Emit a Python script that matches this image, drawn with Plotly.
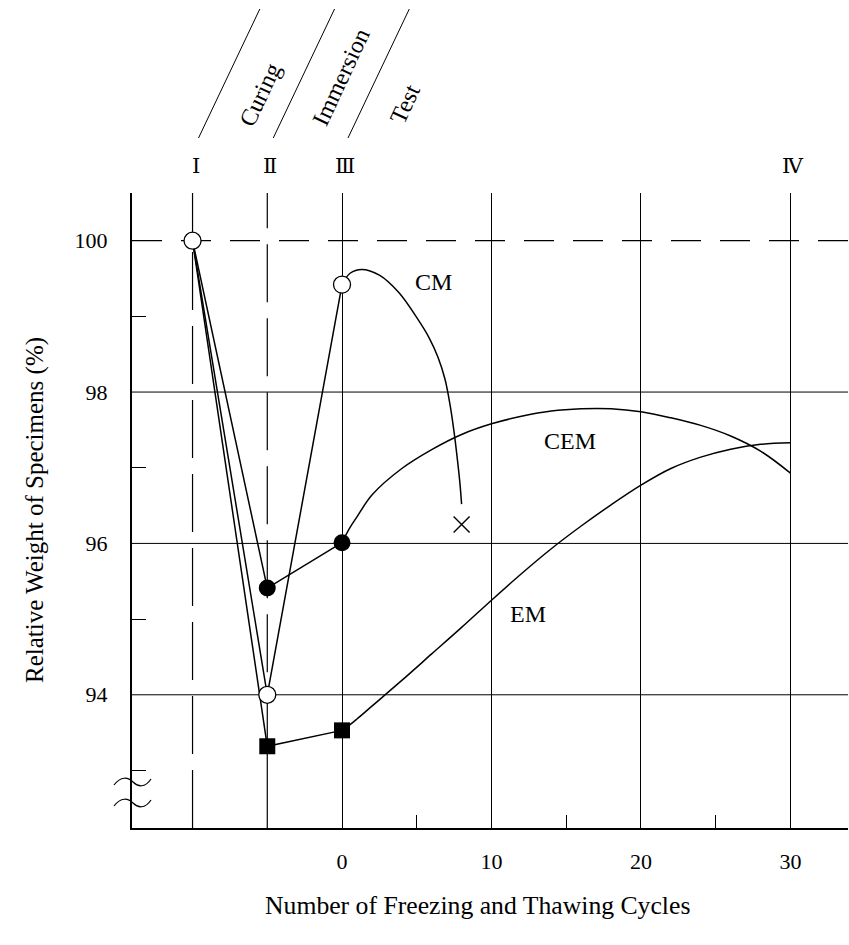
import plotly.graph_objects as go

# ---- data -------------------------------------------------------------
# Stage positions on the x axis (I: start, II: after curing, III: after immersion)
stage_x = [-10, -5, 0]
stage_marks = ["Ⅰ", "Ⅱ", "Ⅲ", "Ⅳ"]
stage_mark_x = [-10, -5, 0, 30]
phase_names = ["Curing", "Immersion", "Test"]

# Relative weight (%) at stages I, II, III
cm_stage = [100.0, 94.0, 99.42]
cem_stage = [100.0, 95.41, 96.01]
em_stage = [100.0, 93.32, 93.53]

# Freezing / thawing cycles after stage III
cm_cycles = [0, 0.54, 1.32, 2.5, 3.8, 5.08, 5.82, 6.42, 6.89, 7.22, 7.49, 7.73, 7.89, 8.0]
cm_curve = [99.42, 99.57, 99.62, 99.545, 99.315, 98.96, 98.72, 98.46, 98.17, 97.84,
            97.48, 97.09, 96.79, 96.52]
cm_fail_x = [8.0]
cm_fail_y = [96.25]

cem_cycles = [0, 0.5, 1, 2, 4, 6, 8, 10, 12, 14, 16, 18, 20, 22, 24, 26, 28, 30]
cem_curve = [96.01, 96.20, 96.35, 96.64, 96.99, 97.24, 97.44, 97.58, 97.68, 97.75, 97.78,
             97.78, 97.74, 97.66, 97.56, 97.42, 97.22, 96.93]

em_cycles = [0, 0.5, 1, 2, 4, 6, 8, 10, 12, 14, 16, 18, 20, 22, 24, 26, 28, 30]
em_curve = [93.53, 93.60, 93.68, 93.85, 94.19, 94.54, 94.89, 95.25, 95.60, 95.93, 96.23,
            96.51, 96.77, 96.99, 97.14, 97.245, 97.31, 97.33]

series_names = ["CM", "CEM", "EM"]

x_ticks = [0, 10, 20, 30]
x_minor = [5, 15, 25]
y_ticks = [94, 96, 98, 100]
y_minor = [93, 95, 97, 99]
y_grid_solid = [94, 96, 98]
y_grid_dashed = [100]

# ---- layout geometry --------------------------------------------------
W, H = 849, 945
ML, MR, MT, MB = 132, 1, 193, 117
PW, PH = W - ML - MR, H - MT - MB
X_RANGE = [-14.05, 33.85]
Y_RANGE = [92.24, 100.63]

FONT = "Liberation Serif, Times New Roman, serif"
INK = "black"


def px_x(px):
    """page pixel x -> paper x"""
    return (px - ML) / PW


def px_y(py):
    """page pixel y -> paper y"""
    return (H - MB - py) / PH


def xp(v):
    """data x -> paper x"""
    return (v - X_RANGE[0]) / (X_RANGE[1] - X_RANGE[0])


def yp(v):
    """data y -> paper y"""
    return (v - Y_RANGE[0]) / (Y_RANGE[1] - Y_RANGE[0])


def path_from_pixels(points):
    cmd = []
    for tag, pts in points:
        cmd.append(tag + " " + " ".join(f"{px_x(x):.5f},{px_y(y):.5f}" for x, y in pts))
    return " ".join(cmd)


fig = go.Figure()

line_style = dict(color=INK, width=1.5)

# straight segments through the stages
for vals in (cem_stage, em_stage, cm_stage):
    fig.add_trace(go.Scatter(x=stage_x, y=vals, mode="lines", line=line_style,
                             hoverinfo="skip", showlegend=False))

# smooth curves over the freezing/thawing cycles
for xs, ys in ((cm_cycles, cm_curve), (cem_cycles, cem_curve), (em_cycles, em_curve)):
    fig.add_trace(go.Scatter(x=xs, y=ys, mode="lines",
                             line=dict(color=INK, width=1.5, shape="spline", smoothing=1.0),
                             hoverinfo="skip", showlegend=False))

# markers
fig.add_trace(go.Scatter(x=stage_x[1:], y=em_stage[1:], mode="markers",
                         marker=dict(symbol="square", size=16, color=INK),
                         name="EM", showlegend=False))
fig.add_trace(go.Scatter(x=stage_x[1:], y=cem_stage[1:], mode="markers",
                         marker=dict(symbol="circle", size=17, color=INK),
                         name="CEM", showlegend=False))
fig.add_trace(go.Scatter(x=stage_x, y=cm_stage, mode="markers",
                         marker=dict(symbol="circle", size=17, color="white",
                                     line=dict(color=INK, width=1.3)),
                         name="CM", showlegend=False))
fig.add_trace(go.Scatter(x=cm_fail_x, y=cm_fail_y, mode="markers",
                         marker=dict(symbol="x-thin", size=16,
                                     line=dict(color=INK, width=1.4)),
                         name="CM failure", showlegend=False))

shapes = []
# horizontal reference lines
for v in y_grid_solid:
    shapes.append(dict(type="line", xref="paper", yref="y", x0=0, x1=1, y0=v, y1=v,
                       line=dict(color=INK, width=1), layer="below"))
for v in y_grid_dashed:
    shapes.append(dict(type="line", xref="paper", yref="y", x0=0, x1=1, y0=v, y1=v,
                       line=dict(color=INK, width=1.2, dash="30px,19px"), layer="below"))
# stage I and II verticals
shapes.append(dict(type="line", xref="paper", yref="paper", x0=xp(stage_x[0]), x1=xp(stage_x[0]),
                   y0=0, y1=1, line=dict(color=INK, width=1.2, dash="58px,16px"), layer="below"))
shapes.append(dict(type="line", xref="paper", yref="paper", x0=xp(stage_x[1]), x1=xp(stage_x[1]),
                   y0=yp(em_stage[1]), y1=1,
                   line=dict(color=INK, width=1.2, dash="58px,16px"), layer="below"))
shapes.append(dict(type="line", xref="paper", yref="paper", x0=xp(stage_x[1]), x1=xp(stage_x[1]),
                   y0=0, y1=yp(em_stage[1]),
                   line=dict(color=INK, width=1.2), layer="below"))

# slanted dividers between the phase labels
for s in stage_x:
    shapes.append(dict(type="line", xref="paper", yref="paper",
                       x0=xp(s + 0.4), y0=px_y(138), x1=xp(s + 4.5), y1=px_y(9),
                       line=dict(color=INK, width=1)))

# axis break marks
for cy in (782, 803):
    shapes.append(dict(type="path", xref="paper", yref="paper",
                       path=path_from_pixels([("M", [(114, cy + 3)]),
                                              ("C", [(121, cy - 6), (128, cy - 5), (133, cy)]),
                                              ("S", [(145, cy + 6), (151, cy - 3)])]),
                       line=dict(color=INK, width=1.2)))

annotations = []
centered = dict(xanchor="center", yanchor="middle", showarrow=False)
# stage numerals
for name, sx in zip(stage_marks, stage_mark_x):
    annotations.append(dict(x=xp(sx + 0.2), y=px_y(166), xref="paper", yref="paper", text=name,
                            font=dict(family="DejaVu Serif, " + FONT, size=21, color=INK),
                            **centered))
# phase names
phase_pos = [(260, 95), (341, 77), (405, 104)]
for name, (cx, cy) in zip(phase_names, phase_pos):
    annotations.append(dict(x=px_x(cx), y=px_y(cy), xref="paper", yref="paper", text=name,
                            textangle=-65, font=dict(family=FONT, size=24, color=INK),
                            **centered))
# series names
label_pos = [(6.1, 99.46), (15.25, 97.35), (12.45, 95.07)]
for name, (lx, ly) in zip(series_names, label_pos):
    annotations.append(dict(x=lx, y=ly, xref="x", yref="y", text=name,
                            font=dict(family=FONT, size=24, color=INK), **centered))
# axis titles
annotations.append(dict(x=px_x(477), y=px_y(905), xref="paper", yref="paper",
                        text="Number of Freezing and Thawing Cycles",
                        font=dict(family=FONT, size=25.7, color=INK), **centered))
annotations.append(dict(x=px_x(35), y=px_y(510), xref="paper", yref="paper",
                        text="Relative Weight of Specimens (%)", textangle=-90,
                        font=dict(family=FONT, size=25, color=INK), **centered))

fig.update_layout(
    width=W, height=H,
    margin=dict(l=ML, r=MR, t=MT, b=MB, pad=0),
    paper_bgcolor="white", plot_bgcolor="white",
    shapes=shapes, annotations=annotations,
    font=dict(family=FONT, size=22, color=INK),
    xaxis=dict(range=X_RANGE, tickvals=x_ticks, showgrid=True, gridcolor=INK, gridwidth=1,
               zeroline=False, showline=True, linecolor=INK, linewidth=2, ticks="",
               ticklabelstandoff=13, tickfont=dict(family=FONT, size=22, color=INK),
               minor=dict(tickvals=x_minor, ticks="inside", ticklen=13, tickwidth=1.2,
                          tickcolor=INK, showgrid=False)),
    yaxis=dict(range=Y_RANGE, tickvals=y_ticks, showgrid=False, zeroline=False,
               showline=True, linecolor=INK, linewidth=2, ticks="",
               ticklabelstandoff=18, tickfont=dict(family=FONT, size=22, color=INK),
               minor=dict(tickvals=y_minor, ticks="inside", ticklen=14, tickwidth=1.2,
                          tickcolor=INK, showgrid=False)),
)

fig.write_html("out.html")
